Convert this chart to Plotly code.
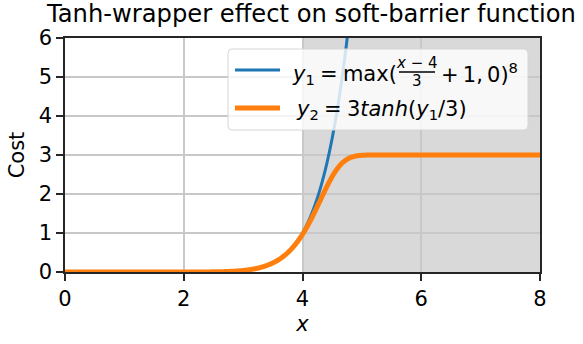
import numpy as np
import plotly.graph_objects as go

# Sampling grid for the cost curves
x_vals = np.linspace(0.0, 8.0, 1601)

# Soft-barrier cost and its tanh-wrapped version (formulas from the legend)
y1_vals = np.maximum((x_vals - 4.0) / 3.0 + 1.0, 0.0) ** 8
y2_vals = 3.0 * np.tanh(y1_vals / 3.0)

# Barrier region
barrier_start = 4.0
barrier_end = 8.0

x_ticks = [0, 2, 4, 6, 8]
y_ticks = [0, 1, 2, 3, 4, 5, 6]

W, H = 583, 344
L, R, T, B = 65, 540, 38, 272
FONT = "DejaVu Sans"
BLUE = "#1f77b4"
ORANGE = "#ff7f0e"
THIN = "\u2009"
MID = "\u2005"


def px(xp):
    return (xp - L) / (R - L)


def py(yp):
    return (B - yp) / (B - T)


fig = go.Figure()
fig.add_trace(go.Scatter(x=x_vals, y=y1_vals, mode="lines",
                         line=dict(color=BLUE, width=3, simplify=False),
                         showlegend=False))
fig.add_trace(go.Scatter(x=x_vals, y=y2_vals, mode="lines",
                         line=dict(color=ORANGE, width=5, simplify=False),
                         showlegend=False))

shapes = [
    # shaded barrier zone, under the grid
    dict(type="rect", xref="x", yref="y", x0=barrier_start, x1=barrier_end,
         y0=0, y1=6, fillcolor="#d9d9d9", line=dict(width=0), layer="below"),
    # legend frame
    dict(type="path", xref="paper", yref="paper",
         path=("M {a},{b} L {c},{b} Q {c2},{b} {c2},{b2} L {c2},{d2} Q {c2},{d} {c},{d} "
               "L {a},{d} Q {a2},{d} {a2},{d2} L {a2},{b2} Q {a2},{b} {a},{b} Z").format(
             a=px(232), c=px(524), a2=px(228), c2=px(528),
             b=py(49), b2=py(53), d=py(130), d2=py(126)),
         fillcolor="rgba(255,255,255,0.8)", line=dict(color="#d6d6d6", width=1),
         layer="above"),
    # legend line samples
    dict(type="line", xref="paper", yref="paper", x0=px(235), x1=px(280),
         y0=py(70), y1=py(70), line=dict(color=BLUE, width=3), layer="above"),
    dict(type="line", xref="paper", yref="paper", x0=px(235), x1=px(280),
         y0=py(108), y1=py(108), line=dict(color=ORANGE, width=5), layer="above"),
    # fraction bar
    dict(type="line", xref="paper", yref="paper", x0=px(399), x1=px(435),
         y0=py(72), y1=py(72), line=dict(color="black", width=1.3), layer="above"),
]

ann_font = dict(family=FONT, size=21, color="black")
small_font = dict(family=FONT, size=15, color="black")
annotations = [
    dict(text="<i>y</i><sub>1</sub>" + MID + "=" + MID + "max(", x=px(399), y=py(75),
         xref="paper", yref="paper", xanchor="right", yanchor="middle",
         showarrow=False, font=ann_font),
    dict(text="<i>x</i> − 4", x=px(417), y=py(63), xref="paper", yref="paper",
         xanchor="center", yanchor="middle", showarrow=False, font=small_font),
    dict(text="3", x=px(417), y=py(81), xref="paper", yref="paper",
         xanchor="center", yanchor="middle", showarrow=False, font=small_font),
    dict(text="+" + THIN + "1," + THIN + "0)<sup>8</sup>", x=px(439), y=py(73),
         xref="paper", yref="paper", xanchor="left", yanchor="middle",
         showarrow=False, font=ann_font),
    dict(text="<i>y</i><sub>2</sub>" + MID + "=" + MID
         + "3<i>tanh</i>(<i>y</i><sub>1</sub>/3)",
         x=px(294), y=py(110), xref="paper", yref="paper",
         xanchor="left", yanchor="middle", showarrow=False, font=ann_font),
]

axis_common = dict(
    showline=True, linecolor="#262626", linewidth=1.5, mirror=True,
    ticks="outside", ticklen=7, tickwidth=1.5, tickcolor="#262626",
    showgrid=True, gridcolor="#c8c8c8", gridwidth=1.5, zeroline=False,
    tickfont=dict(family=FONT, size=21, color="black"),
)

fig.update_layout(
    width=W, height=H,
    margin=dict(l=L, r=W - R, t=T, b=H - B),
    paper_bgcolor="white", plot_bgcolor="white",
    font=dict(family=FONT, color="black"),
    title=dict(text="Tanh-wrapper effect on soft-barrier function",
               x=(L + R) / 2 / W, xanchor="center", xref="paper",
               y=1 - 14 / H, yanchor="middle", yref="container",
               font=dict(family=FONT, size=24.2, color="black")),
    xaxis=dict(range=[0, 8], tickvals=x_ticks,
               title=dict(text="<i>x</i>", font=dict(family=FONT, size=21), standoff=6),
               **axis_common),
    yaxis=dict(range=[0, 6], tickvals=y_ticks,
               title=dict(text="Cost", font=dict(family=FONT, size=21), standoff=8),
               **axis_common),
    shapes=shapes,
    annotations=annotations,
    showlegend=False,
)

fig.write_html("out.html")
